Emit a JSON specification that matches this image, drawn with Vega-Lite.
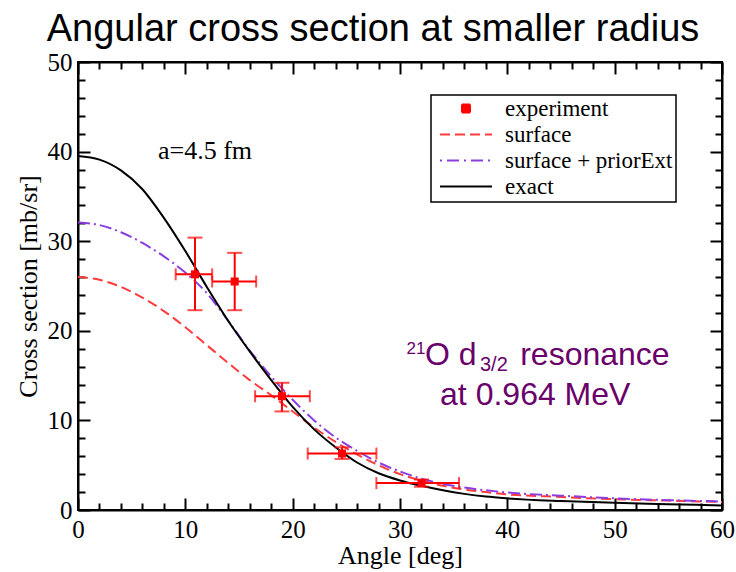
{
  "$schema": "https://vega.github.io/schema/vega-lite/v6.json",
  "width": 644,
  "height": 448,
  "autosize": {"type": "none"},
  "padding": {"left": 78, "top": 62, "right": 14, "bottom": 62},
  "background": "white",
  "title": {
    "text": "Angular cross section at smaller radius",
    "font": "Liberation Sans",
    "fontSize": 38,
    "fontWeight": "normal",
    "color": "black",
    "anchor": "middle",
    "baseline": "alphabetic",
    "offset": -29,
    "dx": -27
  },
  "datasets": {
    "curves": [
      {"series": "exact", "angle": 0, "value": 39.5},
      {"series": "exact", "angle": 2, "value": 39.1},
      {"series": "exact", "angle": 4, "value": 37.9},
      {"series": "exact", "angle": 6, "value": 35.8},
      {"series": "exact", "angle": 8, "value": 32.6},
      {"series": "exact", "angle": 10, "value": 28.9},
      {"series": "exact", "angle": 12, "value": 24.9},
      {"series": "exact", "angle": 14, "value": 21.1},
      {"series": "exact", "angle": 16, "value": 17.7},
      {"series": "exact", "angle": 18, "value": 14.5},
      {"series": "exact", "angle": 20, "value": 11.5},
      {"series": "exact", "angle": 22, "value": 9.0},
      {"series": "exact", "angle": 24, "value": 7.0},
      {"series": "exact", "angle": 26, "value": 5.3},
      {"series": "exact", "angle": 28, "value": 4.1},
      {"series": "exact", "angle": 30, "value": 3.3},
      {"series": "exact", "angle": 32, "value": 2.7},
      {"series": "exact", "angle": 34, "value": 2.2},
      {"series": "exact", "angle": 36, "value": 1.8},
      {"series": "exact", "angle": 38, "value": 1.5},
      {"series": "exact", "angle": 40, "value": 1.3},
      {"series": "exact", "angle": 45, "value": 1.0},
      {"series": "exact", "angle": 50, "value": 0.8},
      {"series": "exact", "angle": 55, "value": 0.65},
      {"series": "exact", "angle": 60, "value": 0.5},
      {"series": "surface + priorExt", "angle": 0, "value": 32.1},
      {"series": "surface + priorExt", "angle": 2, "value": 31.8},
      {"series": "surface + priorExt", "angle": 4, "value": 31.0},
      {"series": "surface + priorExt", "angle": 6, "value": 29.8},
      {"series": "surface + priorExt", "angle": 8, "value": 28.3},
      {"series": "surface + priorExt", "angle": 10, "value": 26.5},
      {"series": "surface + priorExt", "angle": 12, "value": 24.2},
      {"series": "surface + priorExt", "angle": 14, "value": 21.1},
      {"series": "surface + priorExt", "angle": 16, "value": 17.8},
      {"series": "surface + priorExt", "angle": 18, "value": 14.9},
      {"series": "surface + priorExt", "angle": 20, "value": 12.3},
      {"series": "surface + priorExt", "angle": 22, "value": 10.0},
      {"series": "surface + priorExt", "angle": 24, "value": 8.1},
      {"series": "surface + priorExt", "angle": 26, "value": 6.6},
      {"series": "surface + priorExt", "angle": 28, "value": 5.3},
      {"series": "surface + priorExt", "angle": 30, "value": 4.3},
      {"series": "surface + priorExt", "angle": 32, "value": 3.5},
      {"series": "surface + priorExt", "angle": 34, "value": 2.9},
      {"series": "surface + priorExt", "angle": 36, "value": 2.5},
      {"series": "surface + priorExt", "angle": 38, "value": 2.2},
      {"series": "surface + priorExt", "angle": 40, "value": 1.95},
      {"series": "surface + priorExt", "angle": 45, "value": 1.6},
      {"series": "surface + priorExt", "angle": 50, "value": 1.3},
      {"series": "surface + priorExt", "angle": 55, "value": 1.1},
      {"series": "surface + priorExt", "angle": 60, "value": 0.95},
      {"series": "surface", "angle": 0, "value": 26.0},
      {"series": "surface", "angle": 2, "value": 25.7},
      {"series": "surface", "angle": 4, "value": 24.9},
      {"series": "surface", "angle": 6, "value": 23.7},
      {"series": "surface", "angle": 8, "value": 22.2},
      {"series": "surface", "angle": 10, "value": 20.4},
      {"series": "surface", "angle": 12, "value": 18.4},
      {"series": "surface", "angle": 14, "value": 16.4},
      {"series": "surface", "angle": 16, "value": 14.5},
      {"series": "surface", "angle": 18, "value": 12.8},
      {"series": "surface", "angle": 20, "value": 11.0},
      {"series": "surface", "angle": 22, "value": 9.2},
      {"series": "surface", "angle": 24, "value": 7.6},
      {"series": "surface", "angle": 26, "value": 6.2},
      {"series": "surface", "angle": 28, "value": 5.0},
      {"series": "surface", "angle": 30, "value": 4.0},
      {"series": "surface", "angle": 32, "value": 3.3},
      {"series": "surface", "angle": 34, "value": 2.7},
      {"series": "surface", "angle": 36, "value": 2.3},
      {"series": "surface", "angle": 38, "value": 2.0},
      {"series": "surface", "angle": 40, "value": 1.75},
      {"series": "surface", "angle": 45, "value": 1.45},
      {"series": "surface", "angle": 50, "value": 1.2},
      {"series": "surface", "angle": 55, "value": 1.05},
      {"series": "surface", "angle": 60, "value": 0.9}
    ],
    "experiment": [
      {"series": "experiment", "angle": 10.9, "value": 26.3, "xlo": 9.1, "xhi": 12.5, "ylo": 22.3, "yhi": 30.4},
      {"series": "experiment", "angle": 14.6, "value": 25.5, "xlo": 12.5, "xhi": 16.6, "ylo": 22.3, "yhi": 28.7},
      {"series": "experiment", "angle": 19.0, "value": 12.7, "xlo": 16.5, "xhi": 21.6, "ylo": 11.0, "yhi": 14.2},
      {"series": "experiment", "angle": 24.6, "value": 6.3, "xlo": 21.4, "xhi": 27.8, "ylo": 5.7, "yhi": 7.0},
      {"series": "experiment", "angle": 32.0, "value": 3.0, "xlo": 27.8, "xhi": 35.5, "ylo": 2.6, "yhi": 3.4}
    ],
    "note": [
      {"angle": 7.45, "value": 39.2, "text": "a=4.5 fm"}
    ],
    "purpleBig": [
      {"angle": 32.33, "value": 16.2, "text": "O d"},
      {"angle": 41.2, "value": 16.2, "text": "resonance"}
    ],
    "purpleSup": [
      {"angle": 30.6, "value": 17.4, "text": "21"}
    ],
    "purpleSub": [
      {"angle": 37.45, "value": 15.5, "text": "3/2"}
    ],
    "purpleLine2": [
      {"angle": 42.6, "value": 11.7, "text": "at 0.964 MeV"}
    ]
  },
  "layer": [
    {
      "layer": [
        {
          "data": {"name": "curves"},
          "transform": [{"filter": "datum.series === 'surface'"}],
          "mark": {"type": "line", "strokeWidth": 2, "strokeDash": [10, 5], "interpolate": "monotone"},
          "encoding": {
            "x": {
              "field": "angle", "type": "quantitative", "title": "Angle [deg]",
              "scale": {"domain": [0, 60], "nice": false, "zero": false},
              "axis": {
                "title": "Angle [deg]",
                "orient": "bottom",
                "values": [0, 10, 20, 30, 40, 50, 60],
                "tickSize": -12,
                "labelPadding": 19,
                "labelOverlap": false,
                "labelFlush": false,
                "labelBound": false,
                "titlePadding": 0
              }
            },
            "y": {
              "field": "value", "type": "quantitative", "title": "Cross section [mb/sr]",
              "scale": {"domain": [0, 50], "nice": false, "zero": false},
              "axis": {
                "title": "Cross section [mb/sr]",
                "orient": "left",
                "values": [0, 10, 20, 30, 40, 50],
                "tickSize": -12,
                "labelPadding": 18,
                "labelOverlap": false,
                "labelFlush": false,
                "labelBound": false,
                "titleX": -37,
                "titleY": 224,
                "titleAngle": -90,
                "titleAlign": "center",
                "titleBaseline": "bottom"
              }
            },
            "color": {
              "field": "series", "type": "nominal",
              "scale": {"domain": ["experiment", "surface", "surface + priorExt", "exact"], "range": ["#ff0000", "#ff3b3b", "#8a3ee0", "#000000"]},
              "legend": {
                "title": null,
                "orient": "none",
                "legendX": 353,
                "legendY": 33,
                "direction": "vertical",
                "strokeColor": "black",
                "fillColor": "white",
                "padding": 3,
                "symbolType": "stroke",
                "symbolSize": 2704,
                "symbolStrokeWidth": 2,
                "symbolOffset": 5,
                "clipHeight": 21,
                "rowPadding": 2,
                "labelOffset": 12,
                "labelLimit": 400,
                "labelFont": "Liberation Serif",
                "labelFontSize": 23,
                "labelColor": "black",
                "encode": {
                  "legend": {
                    "update": {
                      "strokeWidth": {"value": 1.5}
                    }
                  },
                  "symbols": {
                    "update": {
                      "shape": {"signal": "datum.value === 'experiment' ? 'square' : 'stroke'"},
                      "size": {"signal": "datum.value === 'experiment' ? 64 : 2704"},
                      "fill": {"signal": "datum.value === 'experiment' ? '#ff0000' : 'transparent'"},
                      "stroke": {"signal": "datum.value === 'experiment' ? 'transparent' : (datum.value === 'surface' ? '#ff3b3b' : (datum.value === 'exact' ? '#000000' : '#8a3ee0'))"},
                      "strokeDash": {"signal": "datum.value === 'surface' ? [10, 5] : (datum.value === 'surface + priorExt' ? [2, 5, 12, 5] : [1, 0])"},
                      "strokeWidth": {"value": 2},
                      "opacity": {"value": 1}
                    }
                  }
                }
              }
            }
          }
        },
        {
          "data": {"name": "curves"},
          "transform": [{"filter": "datum.series === 'surface + priorExt'"}],
          "mark": {"type": "line", "strokeWidth": 2, "strokeDash": [12, 4, 2, 4], "interpolate": "monotone"},
          "encoding": {
            "x": {"field": "angle", "type": "quantitative", "title": "Angle [deg]"},
            "y": {"field": "value", "type": "quantitative", "title": "Cross section [mb/sr]"},
            "color": {"field": "series", "type": "nominal"}
          }
        },
        {
          "data": {"name": "curves"},
          "transform": [{"filter": "datum.series === 'exact'"}],
          "mark": {"type": "line", "strokeWidth": 2, "interpolate": "monotone"},
          "encoding": {
            "x": {"field": "angle", "type": "quantitative", "title": "Angle [deg]"},
            "y": {"field": "value", "type": "quantitative", "title": "Cross section [mb/sr]"},
            "color": {"field": "series", "type": "nominal"}
          }
        },
        {
          "data": {"name": "experiment"},
          "mark": {"type": "errorbar", "ticks": {"size": 12, "color": "#ff0000"}, "rule": {"color": "#ff0000"}, "thickness": 2},
          "encoding": {
            "x": {"field": "xlo", "type": "quantitative", "title": "Angle [deg]"},
            "x2": {"field": "xhi"},
            "y": {"field": "value", "type": "quantitative", "title": "Cross section [mb/sr]"}
          }
        },
        {
          "data": {"name": "experiment"},
          "mark": {"type": "errorbar", "ticks": {"size": 15, "color": "#ff0000"}, "rule": {"color": "#ff0000"}, "thickness": 2},
          "encoding": {
            "y": {"field": "ylo", "type": "quantitative", "title": "Cross section [mb/sr]"},
            "y2": {"field": "yhi"},
            "x": {"field": "angle", "type": "quantitative", "title": "Angle [deg]"}
          }
        },
        {
          "data": {"name": "experiment"},
          "mark": {"type": "square", "size": 64, "filled": true, "opacity": 1},
          "encoding": {
            "x": {"field": "angle", "type": "quantitative", "title": "Angle [deg]"},
            "y": {"field": "value", "type": "quantitative", "title": "Cross section [mb/sr]"},
            "color": {"field": "series", "type": "nominal"}
          }
        },
        {
          "data": {"name": "note"},
          "mark": {"type": "text", "font": "Liberation Serif", "fontSize": 26, "align": "left", "baseline": "alphabetic", "color": "black"},
          "encoding": {
            "x": {"field": "angle", "type": "quantitative", "title": "Angle [deg]"},
            "y": {"field": "value", "type": "quantitative", "title": "Cross section [mb/sr]"},
            "text": {"field": "text"}
          }
        },
        {
          "data": {"name": "purpleBig"},
          "mark": {"type": "text", "font": "Liberation Sans", "fontSize": 32, "align": "left", "baseline": "alphabetic", "color": "#6a006a"},
          "encoding": {
            "x": {"field": "angle", "type": "quantitative", "title": "Angle [deg]"},
            "y": {"field": "value", "type": "quantitative", "title": "Cross section [mb/sr]"},
            "text": {"field": "text"}
          }
        },
        {
          "data": {"name": "purpleSup"},
          "mark": {"type": "text", "font": "Liberation Sans", "fontSize": 17, "align": "left", "baseline": "alphabetic", "color": "#6a006a"},
          "encoding": {
            "x": {"field": "angle", "type": "quantitative", "title": "Angle [deg]"},
            "y": {"field": "value", "type": "quantitative", "title": "Cross section [mb/sr]"},
            "text": {"field": "text"}
          }
        },
        {
          "data": {"name": "purpleSub"},
          "mark": {"type": "text", "font": "Liberation Sans", "fontSize": 20, "align": "left", "baseline": "alphabetic", "color": "#6a006a"},
          "encoding": {
            "x": {"field": "angle", "type": "quantitative", "title": "Angle [deg]"},
            "y": {"field": "value", "type": "quantitative", "title": "Cross section [mb/sr]"},
            "text": {"field": "text"}
          }
        },
        {
          "data": {"name": "purpleLine2"},
          "mark": {"type": "text", "font": "Liberation Sans", "fontSize": 32, "align": "center", "baseline": "alphabetic", "color": "#6a006a"},
          "encoding": {
            "x": {"field": "angle", "type": "quantitative", "title": "Angle [deg]"},
            "y": {"field": "value", "type": "quantitative", "title": "Cross section [mb/sr]"},
            "text": {"field": "text"}
          }
        }
      ]
    },
    {
      "data": {"name": "curves"},
      "mark": {"type": "point", "opacity": 0},
      "encoding": {
        "x": {
          "field": "angle", "type": "quantitative",
          "axis": {
            "title": null, "orient": "bottom", "labels": false, "domain": false, "offset": 0,
            "values": [2,4,6,8,12,14,16,18,22,24,26,28,32,34,36,38,42,44,46,48,52,54,56,58],
            "tickSize": -7
          }
        },
        "y": {
          "field": "value", "type": "quantitative",
          "axis": {
            "title": null, "orient": "left", "labels": false, "domain": false, "offset": 0,
            "values": [2,4,6,8,12,14,16,18,22,24,26,28,32,34,36,38,42,44,46,48],
            "tickSize": -7
          }
        }
      }
    },
    {
      "data": {"name": "curves"},
      "mark": {"type": "point", "opacity": 0},
      "encoding": {
        "x": {
          "field": "angle", "type": "quantitative",
          "axis": {
            "title": null, "orient": "top", "labels": false, "offset": 0,
            "values": [0, 10, 20, 30, 40, 50, 60],
            "tickSize": -12
          }
        },
        "y": {
          "field": "value", "type": "quantitative",
          "axis": {
            "title": null, "orient": "right", "labels": false, "offset": 0,
            "values": [0, 10, 20, 30, 40, 50],
            "tickSize": -12
          }
        }
      }
    },
    {
      "data": {"name": "curves"},
      "mark": {"type": "point", "opacity": 0},
      "encoding": {
        "x": {
          "field": "angle", "type": "quantitative",
          "axis": {
            "title": null, "orient": "top", "labels": false, "domain": false, "offset": 0,
            "values": [2,4,6,8,12,14,16,18,22,24,26,28,32,34,36,38,42,44,46,48,52,54,56,58],
            "tickSize": -7
          }
        },
        "y": {
          "field": "value", "type": "quantitative",
          "axis": {
            "title": null, "orient": "right", "labels": false, "domain": false, "offset": 0,
            "values": [2,4,6,8,12,14,16,18,22,24,26,28,32,34,36,38,42,44,46,48],
            "tickSize": -7
          }
        }
      }
    }
  ],
  "resolve": {"axis": {"x": "independent", "y": "independent"}},
  "config": {
    "view": {"stroke": "black", "strokeWidth": 2},
    "axis": {
      "grid": false,
      "labelOverlap": false,
      "domainColor": "black",
      "domainWidth": 2,
      "tickColor": "black",
      "tickWidth": 2,
      "labelFont": "Liberation Serif",
      "labelFontSize": 25,
      "labelColor": "black",
      "titleFont": "Liberation Serif",
      "titleFontSize": 26,
      "titleFontWeight": "normal",
      "titleColor": "black"
    }
  }
}
